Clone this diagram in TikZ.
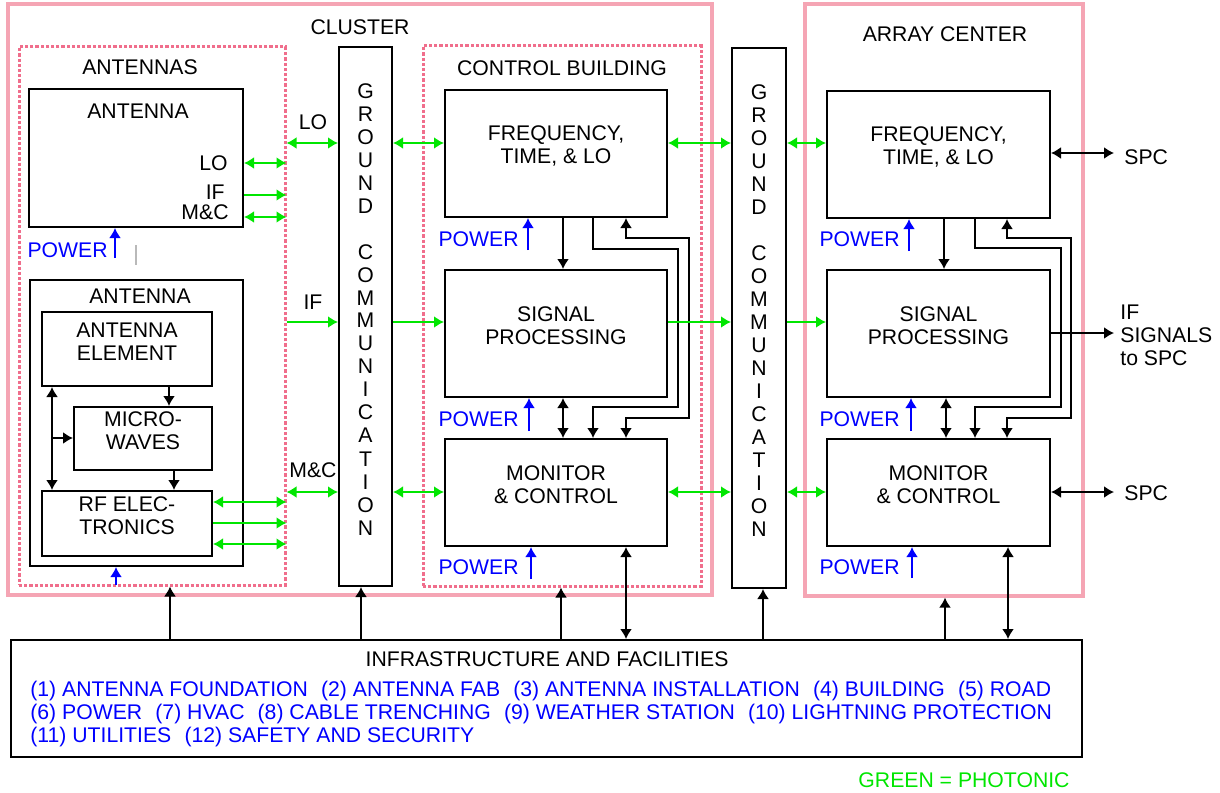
\documentclass[tikz,border=0pt]{standalone}
\usepackage{fontspec}
\setmainfont{Liberation Sans}
\usepackage{tikz}
\usetikzlibrary{shapes,fit,arrows.meta}

\definecolor{photonic}{RGB}{0,230,0}
\definecolor{pwrblue}{RGB}{0,0,255}
\definecolor{zonepink}{RGB}{245,165,180}
\definecolor{dashpink}{RGB}{240,110,140}

\tikzset{
    blk/.style={draw, line width=1pt, inner sep=0pt, align=center},
    zone/.style={draw=zonepink, line width=1.6pt, inner sep=0pt},
    dzone/.style={draw=dashpink, line width=1.5pt, dash pattern=on 1.6pt off 1pt, inner sep=0pt},
    lbl/.style={inner sep=0pt},
    pwtxt/.style={pwrblue, inner sep=0pt, anchor=east},
    gr/.style={photonic, line width=1pt},
    bk/.style={black, line width=0.9pt},
    pw/.style={pwrblue, line width=1pt, ->}
}

\begin{document}
\begin{tikzpicture}[x=0.5pt, y=-0.5pt, >={Latex[length=5pt,width=6pt]},
    every node/.style={font=\fontsize{10.6}{11.5}\selectfont}]
    \path[use as bounding box, fill=white] (0,0) rectangle (1220,792);

    % Zones
    \node[zone, fit={(8,4) (712,595)}] (cluster) {};
    \node[dzone, fit={(19,47) (285,585)}] (antennas) {};
    \node[dzone, fit={(423,46) (701,586)}] (ctrlbldg) {};
    \node[zone, fit={(805,4) (1083,596)}] (arrayctr) {};
    \node[lbl] (tcluster) at (360,27) {CLUSTER};
    \node[lbl] (tantennas) at (140,67) {ANTENNAS};
    \node[lbl] (tctrlbldg) at (562,68) {CONTROL BUILDING};
    \node[lbl] (tarrayctr) at (945,34) {ARRAY CENTER};

    % Antenna 1
    \node[blk, fit={(29,89) (243,227)}] (ant1) {};
    \node[lbl] (ant1t) at (138,111) {ANTENNA};
    \node[lbl, anchor=east] (ant1lo) at (228,163) {LO};
    \node[lbl, anchor=east] (ant1if) at (225,192) {IF};
    \node[lbl, anchor=east] (ant1mc) at (229,212) {M\&C};
    \draw[gr,<->] (ant1.east |- 0,163) -- (antennas.east |- 0,163);
    \draw[gr,->] (ant1.east |- 0,195) -- (antennas.east |- 0,195);
    \draw[gr,<->] (ant1.east |- 0,217) -- (antennas.east |- 0,217);
    \node[pwtxt] (ant1pw) at (108,250) {POWER};
    \draw[pw] (115,258) -- (ant1.south -| 115,0);
    \draw[gray!55, line width=1pt] (136,245) -- (136,265);

    % Antenna 2
    \node[blk, fit={(30,280) (243,566)}] (ant2) {};
    \node[lbl] (ant2t) at (140,296) {ANTENNA};
    \node[blk, fit={(42,312) (212,386)}] (elem) {ANTENNA\\ELEMENT};
    \node[blk, fit={(74,407) (212,470)}] (micro) {MICRO-\\WAVES};
    \node[blk, fit={(42,491) (212,556)}] (rfel) {RF ELEC-\\TRONICS};
    \coordinate (split) at (52,438);
    \draw[bk,->] (elem.south -| 169,0) -- (micro.north -| 169,0);
    \draw[bk,->] (micro.south -| 174,0) -- (rfel.north -| 174,0);
    \draw[bk,<->] (elem.south -| 52,0) -- (rfel.north -| 52,0);
    \draw[bk,->] (split) -- (micro.west |- split);
    \draw[gr,<->] (rfel.east |- 0,502) -- (antennas.east |- 0,502);
    \draw[gr,->] (rfel.east |- 0,523) -- (antennas.east |- 0,523);
    \draw[gr,<->] (rfel.east |- 0,544) -- (antennas.east |- 0,544);
    \draw[pw] (116,585) -- (ant2.south -| 116,0);

    % Ground communication
    \node[blk, fit={(339,47) (392,586)}] (gc1) {G\\R\\O\\U\\N\\D\\[11.5pt]C\\O\\M\\M\\U\\N\\I\\C\\A\\T\\I\\O\\N};
    \node[blk, fit={(732,48) (786,588)}] (gc2) {G\\R\\O\\U\\N\\D\\[11.5pt]C\\O\\M\\M\\U\\N\\I\\C\\A\\T\\I\\O\\N};
    \node[lbl] (tlo) at (313,122) {LO};
    \node[lbl] (tif) at (313,302) {IF};
    \node[lbl] (tmc) at (313,470) {M\&C};

    % Control building
    \node[blk, fit={(445,90) (667,217)}] (cbft) {FREQUENCY,\\TIME, \& LO};
    \node[blk, fit={(445,270) (667,397)}] (cbsp) {SIGNAL\\PROCESSING};
    \node[blk, fit={(445,439) (667,546)}] (cbmc) {MONITOR\\\& CONTROL};
    \draw[bk,->] (cbft.south -| 563,0) -- (cbsp.north -| 563,0);
    \draw[bk,<->] (cbsp.south -| 563,0) -- (cbmc.north -| 563,0);
    \draw[bk,->] (cbft.south -| 593,0) |- (678,249) |- (593,407) -- (cbmc.north -| 593,0);
    \draw[bk,<->] (cbft.south -| 626,0) |- (689,238) |- (626,418) -- (cbmc.north -| 626,0);
    \node[pwtxt] (cbftpw) at (519,239) {POWER};
    \node[pwtxt] (cbsppw) at (519,419) {POWER};
    \node[pwtxt] (cbmcpw) at (519,567) {POWER};
    \draw[pw] (528,250) -- (cbft.south -| 528,0);
    \draw[pw] (529,431) -- (cbsp.south -| 529,0);
    \draw[pw] (531,579) -- (cbmc.south -| 531,0);

    % Array center
    \node[blk, fit={(827,91) (1050,218)}] (acft) {FREQUENCY,\\TIME, \& LO};
    \node[blk, fit={(827,270) (1050,397)}] (acsp) {SIGNAL\\PROCESSING};
    \node[blk, fit={(827,439) (1050,546)}] (acmc) {MONITOR\\\& CONTROL};
    \draw[bk,->] (acft.south -| 944,0) -- (acsp.north -| 944,0);
    \draw[bk,<->] (acsp.south -| 946,0) -- (acmc.north -| 946,0);
    \draw[bk,->] (acft.south -| 975,0) |- (1061,248) |- (975,407) -- (acmc.north -| 975,0);
    \draw[bk,<->] (acft.south -| 1007,0) |- (1071,238) |- (1007,418) -- (acmc.north -| 1007,0);
    \node[pwtxt] (acftpw) at (900,239) {POWER};
    \node[pwtxt] (acsppw) at (900,419) {POWER};
    \node[pwtxt] (acmcpw) at (900,567) {POWER};
    \draw[pw] (909,251) -- (acft.south -| 909,0);
    \draw[pw] (911,431) -- (acsp.south -| 911,0);
    \draw[pw] (912,578) -- (acmc.south -| 912,0);

    % Outputs to SPC
    \node[lbl, anchor=west] (spcft) at (1124,157) {SPC};
    \node[lbl, anchor=west, align=left] (spcif) at (1120,335) {IF\\SIGNALS\\to SPC};
    \node[lbl, anchor=west] (spcmc) at (1124,493) {SPC};
    \draw[bk,<->] (acft.east |- 0,153) -- (1114,153);
    \draw[bk,->] (acsp.east |- 0,333) -- (1114,333);
    \draw[bk,<->] (acmc.east |- 0,492) -- (1114,492);

    % Photonic links
    \draw[gr,<->] (antennas.east |- 0,143) -- (gc1.west |- 0,143);
    \draw[gr,<->] (gc1.east |- 0,143) -- (cbft.west |- 0,143);
    \draw[gr,<->] (cbft.east |- 0,143) -- (gc2.west |- 0,143);
    \draw[gr,<->] (gc2.east |- 0,143) -- (acft.west |- 0,143);
    \draw[gr,->] (antennas.east |- 0,322) -- (gc1.west |- 0,322);
    \draw[gr,->] (gc1.east |- 0,322) -- (cbsp.west |- 0,322);
    \draw[gr,->] (cbsp.east |- 0,322) -- (gc2.west |- 0,322);
    \draw[gr,->] (gc2.east |- 0,322) -- (acsp.west |- 0,322);
    \draw[gr,<->] (antennas.east |- 0,492) -- (gc1.west |- 0,492);
    \draw[gr,<->] (gc1.east |- 0,492) -- (cbmc.west |- 0,492);
    \draw[gr,<->] (cbmc.east |- 0,492) -- (gc2.west |- 0,492);
    \draw[gr,<->] (gc2.east |- 0,492) -- (acmc.west |- 0,492);

    % Infrastructure
    \node[blk, fit={(11,640) (1082,757)}] (infra) {};
    \node[lbl] (infrat) at (547,659) {INFRASTRUCTURE AND FACILITIES};
    \node[lbl, anchor=west, align=left, pwrblue] (infral) at (30,714)
        {(1) ANTENNA FOUNDATION\hspace{0.62em}(2) ANTENNA FAB\hspace{0.62em}(3) ANTENNA INSTALLATION\hspace{0.62em}(4) BUILDING\hspace{0.62em}(5) ROAD\\
         (6) POWER\hspace{0.62em}(7) HVAC\hspace{0.62em}(8) CABLE TRENCHING\hspace{0.62em}(9) WEATHER STATION\hspace{0.62em}(10) LIGHTNING PROTECTION\\
         (11) UTILITIES\hspace{0.62em}(12) SAFETY AND SECURITY};
    \draw[bk,->] (infra.north -| 170,0) -- (antennas.south -| 170,0);
    \draw[bk,->] (infra.north -| 361,0) -- (gc1.south -| 361,0);
    \draw[bk,->] (infra.north -| 561,0) -- (ctrlbldg.south -| 561,0);
    \draw[bk,<->] (cbmc.south -| 626,0) -- (infra.north -| 626,0);
    \draw[bk,->] (infra.north -| 763,0) -- (gc2.south -| 763,0);
    \draw[bk,->] (infra.north -| 945,0) -- (arrayctr.south -| 945,0);
    \draw[bk,<->] (acmc.south -| 1008,0) -- (infra.north -| 1008,0);

    \node[lbl, photonic] (legend) at (964,780) {GREEN = PHOTONIC};
\end{tikzpicture}
\end{document}
